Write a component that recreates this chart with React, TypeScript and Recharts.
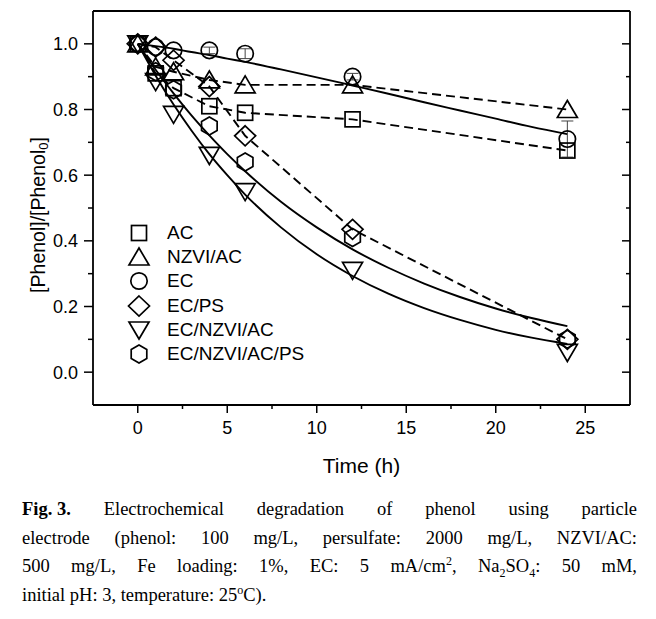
import React from "react"
import { ComposedChart, Line, Scatter, XAxis, YAxis, Legend, ErrorBar } from "recharts"

// sampling times (h)
const time = [0, 1, 2, 4, 6, 12, 24]

// measured [Phenol]/[Phenol0]
const ac = [1.0, 0.91, 0.865, 0.81, 0.79, 0.77, 0.675]
const nzviAc = [1.0, 0.93, 0.915, 0.89, 0.875, 0.875, 0.8]
const ec = [1.0, 0.99, 0.98, 0.98, 0.97, 0.9, 0.71]
const ecErr = [0, 0, 0, 0.01, 0.015, 0.01, 0.055]
const ecPs = [1.0, 0.99, 0.95, 0.87, 0.72, 0.435, 0.1]
const ecNzviAc = [1.0, 0.885, 0.785, 0.66, 0.55, 0.31, 0.06]
const ecNzviAcPs = [1.0, 0.915, 0.86, 0.75, 0.64, 0.41, 0.1]

// fitted curves (solid lines)
const fitTime = [0, 1, 2, 3, 4, 5, 6, 8, 10, 12, 14, 16, 18, 20, 22, 24]
const ecFit = [1.0, 0.993, 0.985, 0.975, 0.966, 0.955, 0.945, 0.922, 0.898, 0.873, 0.848, 0.822, 0.797, 0.772, 0.747, 0.725]
const ecNzviAcFit = [1.0, 0.903, 0.815, 0.736, 0.664, 0.6, 0.541, 0.441, 0.359, 0.293, 0.239, 0.195, 0.159, 0.129, 0.105, 0.086]
const ecNzviAcPsFit = [1.0, 0.921, 0.849, 0.782, 0.721, 0.664, 0.612, 0.519, 0.441, 0.374, 0.318, 0.27, 0.229, 0.194, 0.165, 0.14]

const xTicks = [0, 2.5, 5, 7.5, 10, 12.5, 15, 17.5, 20, 22.5, 25]
const yTicks = [0, 0.1, 0.2, 0.3, 0.4, 0.5, 0.6, 0.7, 0.8, 0.9, 1.0]

const SANS = '"Liberation Sans", Arial, sans-serif'
const SERIF = '"Liberation Serif", "Times New Roman", serif'

const toPoints = (ys: number[], xs: number[] = time) => xs.map((x, i) => ({ x, y: ys[i] }))

const series = [
  { name: "AC", kind: "square", values: ac },
  { name: "NZVI/AC", kind: "triangle", values: nzviAc },
  { name: "EC", kind: "circle", values: ec },
  { name: "EC/PS", kind: "diamond", values: ecPs },
  { name: "EC/NZVI/AC", kind: "down", values: ecNzviAc },
  { name: "EC/NZVI/AC/PS", kind: "hexagon", values: ecNzviAcPs },
]

function Marker({ kind, cx, cy }: { kind: string; cx: number; cy: number }) {
  const st = { fill: "none", stroke: "#000", strokeWidth: 1.7 }
  if (kind === "square") return <rect x={cx - 7.5} y={cy - 7.5} width={15} height={15} {...st} />
  if (kind === "circle") return <circle cx={cx} cy={cy} r={8.2} {...st} />
  if (kind === "triangle")
    return <polygon points={`${cx},${cy - 9} ${cx + 10},${cy + 8} ${cx - 10},${cy + 8}`} {...st} />
  if (kind === "down")
    return <polygon points={`${cx - 10},${cy - 8} ${cx + 10},${cy - 8} ${cx},${cy + 9}`} {...st} />
  if (kind === "diamond")
    return <polygon points={`${cx},${cy - 10} ${cx + 10.5},${cy} ${cx},${cy + 10} ${cx - 10.5},${cy}`} {...st} />
  const r = 9
  const pts = [-90, -30, 30, 90, 150, 210]
    .map((a) => `${cx + r * Math.cos((a * Math.PI) / 180)},${cy + r * Math.sin((a * Math.PI) / 180)}`)
    .join(" ")
  return <polygon points={pts} {...st} />
}

const BottomTick = (props: any) => {
  const { x, y, payload } = props
  const v = payload.value
  const major = v % 5 === 0
  return (
    <g>
      <line x1={x} x2={x} y1={y} y2={y + (major ? 8 : 4)} stroke="#000" strokeWidth={1.5} />
      {major && (
        <text x={x} y={y + 29} textAnchor="middle" fontSize={18} fontFamily={SANS} fill="#000">
          {v}
        </text>
      )}
    </g>
  )
}

const TopTick = (props: any) => {
  const { x, y, payload } = props
  const major = payload.value % 5 === 0
  return <line x1={x} x2={x} y1={y} y2={y + (major ? 8 : 4)} stroke="#000" strokeWidth={1.5} />
}

const LeftTick = (props: any) => {
  const { x, y, payload } = props
  const v = payload.value
  const major = Math.round(v * 10) % 2 === 0
  return (
    <g>
      <line x1={x} x2={x - (major ? 9 : 5)} y1={y} y2={y} stroke="#000" strokeWidth={1.5} />
      {major && (
        <text x={x - 15} y={y + 6.5} textAnchor="end" fontSize={18} fontFamily={SANS} fill="#000">
          {v.toFixed(1)}
        </text>
      )}
    </g>
  )
}

const RightTick = (props: any) => {
  const { x, y, payload } = props
  const major = Math.round(payload.value * 10) % 2 === 0
  return <line x1={x} x2={x - (major ? 8 : 4)} y1={y} y2={y} stroke="#000" strokeWidth={1.5} />
}

const LegendBox = () => (
  <div style={{ fontFamily: SANS, fontSize: 19, color: "#000" }}>
    {series.map((s) => (
      <div key={s.name} style={{ display: "flex", alignItems: "center", height: 24.2 }}>
        <svg width={28} height={24}>
          <Marker kind={s.kind} cx={14} cy={12} />
        </svg>
        <span style={{ marginLeft: 14, lineHeight: "24px" }}>{s.name}</span>
      </div>
    ))}
  </div>
)

const XTitle = () => (
  <text x={361.5} y={473} textAnchor="middle" fontSize={21} fontFamily={SANS} fill="#000">
    Time (h)
  </text>
)

const YTitle = () => (
  <text
    x={38}
    y={215}
    transform="rotate(-90, 38, 215)"
    textAnchor="middle"
    dominantBaseline="central"
    fontSize={19.5}
    fontFamily={SANS}
    fill="#000"
  >
    [Phenol]/[Phenol
    <tspan dy={5} fontSize={13}>0</tspan>
    <tspan dy={-5}>]</tspan>
  </text>
)

const supStyle = { fontSize: 12, lineHeight: 0 }

export default function App() {
  const lineStyle = { stroke: "#000", strokeWidth: 1.9, dot: false, isAnimationActive: false, legendType: "none" as const }
  const justified = { textAlign: "justify" as const, textAlignLast: "justify" as const }
  return (
    <div style={{ position: "absolute", left: 0, top: 0, width: 656, height: 619, background: "#fff" }}>
      <ComposedChart width={656} height={480} margin={{ top: 11, right: 26, bottom: 0, left: 0 }}>
        <XAxis
          xAxisId={0}
          type="number"
          dataKey="x"
          domain={[-2.5, 27.5]}
          ticks={xTicks}
          allowDataOverflow
          height={75}
          tickSize={0}
          tickMargin={0}
          tickLine={false}
          tick={<BottomTick />}
          axisLine={{ stroke: "#000", strokeWidth: 1.8 }}
          label={<XTitle />}
        />
        <XAxis
          xAxisId="top"
          orientation="top"
          mirror
          type="number"
          domain={[-2.5, 27.5]}
          ticks={xTicks}
          allowDataOverflow
          tickSize={0}
          tickMargin={0}
          tickLine={false}
          tick={<TopTick />}
          axisLine={{ stroke: "#000", strokeWidth: 1.8 }}
        />
        <YAxis
          yAxisId={0}
          type="number"
          domain={[-0.1, 1.1]}
          ticks={yTicks}
          allowDataOverflow
          width={93}
          tickSize={0}
          tickMargin={0}
          tickLine={false}
          tick={<LeftTick />}
          axisLine={{ stroke: "#000", strokeWidth: 1.8 }}
          label={<YTitle />}
        />
        <YAxis
          yAxisId="right"
          orientation="right"
          mirror
          type="number"
          domain={[-0.1, 1.1]}
          ticks={yTicks}
          allowDataOverflow
          tickSize={0}
          tickMargin={0}
          tickLine={false}
          tick={<RightTick />}
          axisLine={{ stroke: "#000", strokeWidth: 1.8 }}
        />

        <Line data={toPoints(ac)} dataKey="y" type="linear" strokeDasharray="9 5" {...lineStyle} />
        <Line data={toPoints(nzviAc)} dataKey="y" type="linear" strokeDasharray="9 5" {...lineStyle} />
        <Line data={toPoints(ecPs)} dataKey="y" type="linear" strokeDasharray="9 5" {...lineStyle} />
        <Line data={toPoints(ecFit, fitTime)} dataKey="y" type="monotone" {...lineStyle} />
        <Line data={toPoints(ecNzviAcFit, fitTime)} dataKey="y" type="monotone" {...lineStyle} />
        <Line data={toPoints(ecNzviAcPsFit, fitTime)} dataKey="y" type="monotone" {...lineStyle} />

        {series.map((s) => (
          <Scatter
            key={s.name}
            name={s.name}
            data={s.name === "EC" ? time.map((x, i) => ({ x, y: ec[i], e: ecErr[i] })) : toPoints(s.values)}
            dataKey="y"
            isAnimationActive={false}
            shape={(p: any) => <Marker kind={s.kind} cx={p.cx} cy={p.cy} />}
          >
            {s.name === "EC" && (
              <ErrorBar dataKey="e" direction="y" width={6} stroke="#444" strokeWidth={1} isAnimationActive={false} />
            )}
          </Scatter>
        ))}

        <Legend
          layout="vertical"
          align="center"
          verticalAlign="middle"
          content={() => <LegendBox />}
          wrapperStyle={{ left: 125, top: 221, width: "auto" }}
        />
      </ComposedChart>

      <div
        style={{
          position: "absolute",
          left: 22,
          top: 495,
          width: 615,
          fontFamily: SERIF,
          fontSize: 18.5,
          lineHeight: "28.5px",
          color: "#000",
        }}
      >
        <div style={justified}>
          <b style={{ display: "inline-block" }}>Fig. 3.</b> Electrochemical degradation of phenol using particle
        </div>
        <div style={justified}>electrode (phenol: 100 mg/L, persulfate: 2000 mg/L, NZVI/AC:</div>
        <div style={justified}>
          500 mg/L, Fe loading: 1%, EC: 5 mA/cm<sup style={supStyle}>2</sup>, Na<sub style={supStyle}>2</sub>SO
          <sub style={supStyle}>4</sub>: 50 mM,
        </div>
        <div>
          initial pH: 3, temperature: 25<sup style={supStyle}>o</sup>C).
        </div>
      </div>
    </div>
  )
}
